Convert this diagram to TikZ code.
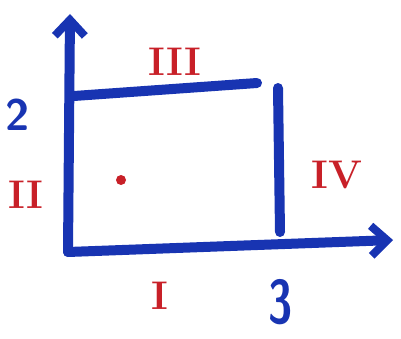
\documentclass[tikz,border=0pt]{standalone}
\usepackage{tikz}
\usetikzlibrary{arrows.meta}
\definecolor{Marker}{RGB}{24,52,178}
\definecolor{Crimson}{RGB}{200,32,40}

\begin{document}
\begin{tikzpicture}[x=1pt,y=-1pt,
 ax/.style={-{Straight Barb[length=16pt,width=30pt,line width=8pt]},line width=10pt,Marker,line cap=round},
 side/.style={line width=10pt,Marker,line cap=round},
 roman/.style={Crimson,font=\fontsize{40}{40}\selectfont\bfseries},
 num/.style={Marker,font=\fontsize{44}{44}\selectfont\sffamily\bfseries}]
\useasboundingbox (0,0) rectangle (401,339);
\coordinate (o) at (68,252);
\coordinate (xend) at (393,240);
\coordinate (yend) at (70,14);
\coordinate (tl) at (74,96);
\coordinate (tr) at (257,83);
\coordinate (rt) at (278,88);
\coordinate (rb) at (280,232);
\draw[ax] (o)--(xend);
\draw[ax] (o)--(yend);
\draw[side] (tl)--(tr);
\draw[side] (rt)--(rb);
\fill[Crimson] (121,180) circle (5);
\node[roman] (s3) at (175,62) {III};
\node[roman] (s2) at (26,195) {II};
\node[roman] (s4) at (337,175) {IV};
\node[roman] (s1) at (160,296) {I};
\node[num] (ny) at (18,115) {2};
\node[num,yscale=1.4] (nx) at (281,302) {3};
\end{tikzpicture}
\end{document}
